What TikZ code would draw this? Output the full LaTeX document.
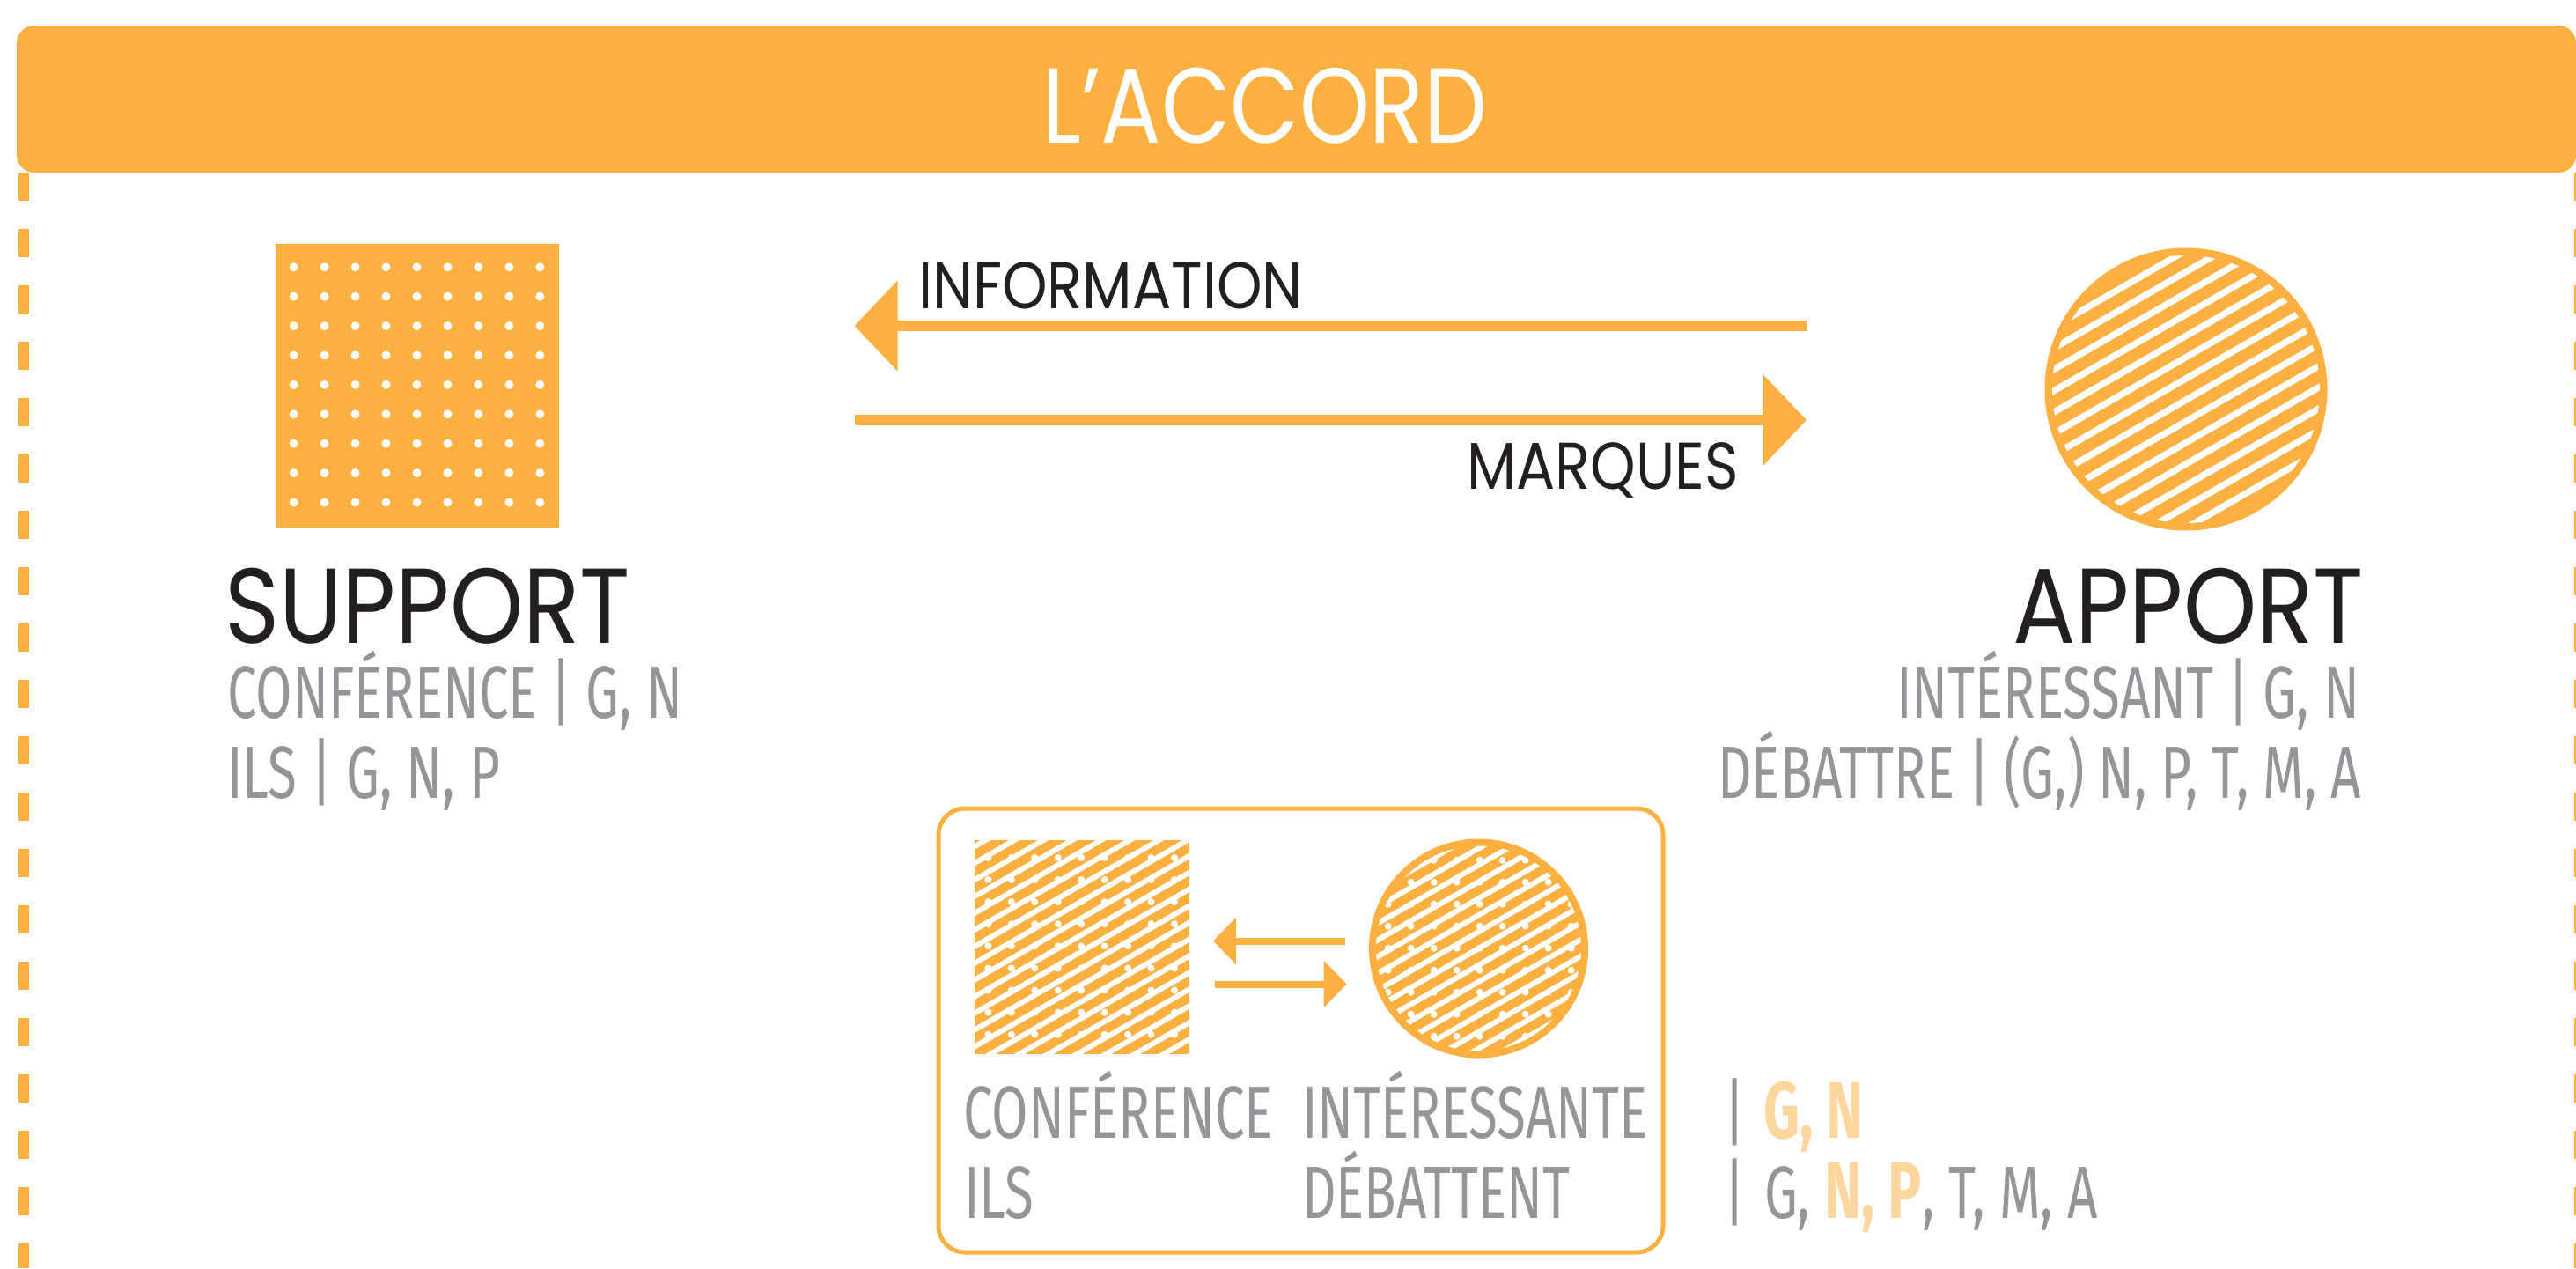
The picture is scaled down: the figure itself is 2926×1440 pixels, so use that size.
\documentclass[tikz,border=0pt]{standalone}
\usepackage{fontspec}
\usetikzlibrary{arrows.meta,calc}
\setmainfont{Poppins}
\newfontfamily\geo[FakeStretch=0.875]{Poppins}
\newfontfamily\geot[FakeStretch=0.84]{Poppins}
\newfontfamily\lightf[FakeStretch=0.715]{Fira Sans}
\newfontfamily\boldf[FakeStretch=0.7]{Fira Sans}
\definecolor{acc}{HTML}{FBB040}
\definecolor{dark}{HTML}{231F20}
\definecolor{graytxt}{HTML}{939598}
\definecolor{lor}{HTML}{FDD69E}
\newcommand\accb[1]{{\boldf\bfseries\fontsize{45.5pt}{46pt}\selectfont\color{lor}#1}}
\begin{document}
\begin{tikzpicture}[x=0.5pt,y=-0.5pt,
  bigtitle/.style={font={\geo\fontsize{60.5pt}{62pt}\selectfont},inner sep=0,outer sep=0,text depth=0pt},
  toptitle/.style={font={\geot\fontsize{60.5pt}{62pt}\selectfont},inner sep=0,outer sep=0},
  midtitle/.style={font={\geo\fontsize{37.5pt}{40pt}\selectfont},text=dark,inner sep=0,outer sep=0},
  graytext/.style={font={\lightf\fontsize{42pt}{45pt}\selectfont},text=graytxt,inner sep=0,outer sep=0},
  dashline/.style={acc,line width=6pt,dash pattern=on 16pt off 16pt},
  bigarr/.style={acc,line width=6.35pt,-{Triangle[length=24.5pt,width=50pt]}},
  smallarr/.style={acc,line width=4pt,-{Triangle[length=13pt,width=26pt]}},
  whitestripe/.style={white,line width=#1},
]
\useasboundingbox (0,0) rectangle (2926,1440);
\fill[white] (0,0) rectangle (2926,1440);

% dashed side lines
\coordinate (dl1) at (27,196);
\coordinate (dl2) at (27,1440);
\coordinate (dr1) at (2930,196);
\coordinate (dr2) at (2930,1440);
\draw[dashline] (dl1) -- (dl2);
\draw[dashline] (dr1) -- (dr2);

% header bar
\node[fill=acc,rounded corners=10pt,minimum width=1453.5pt,minimum height=83.5pt,inner sep=0] (bar) at (1472.5,112.5) {};
\node[toptitle,text=white,anchor=base] (title) at (1437,162) {L’ACCORD};

% big square with dots
\node[fill=acc,minimum width=161pt,minimum height=161pt,inner sep=0] (sq) at (474,438) {};
\foreach \i in {0,...,8}{
  \foreach \j in {0,...,8}{
    \fill[white] (333.7+34.95*\i,303.3+33.4*\j) circle[radius=2.5pt];
  }
}

% big circle with stripes
\node[circle,fill=acc,minimum size=160.5pt,inner sep=0] (ci) at (2483,442) {};
\begin{scope}
  \clip (ci.center) circle[radius=76pt];
  \begin{scope}[shift={(ci.center)},rotate=30]
    \foreach \k in {1,...,14}{
      \draw[whitestripe=3.7pt] (-200,{(\k-7.5)*21}) -- (200,{(\k-7.5)*21});
    }
  \end{scope}
\end{scope}

% big arrows
\coordinate (a1s) at (2052,370);
\coordinate (a1e) at (970.5,370);
\coordinate (a2s) at (970.5,477);
\coordinate (a2e) at (2052,477);
\draw[bigarr] (a1s) -- (a1e);
\draw[bigarr] (a2s) -- (a2e);
\node[midtitle,anchor=base west] (info) at (1043,350) {INFORMATION};
\node[midtitle,anchor=base east] (marq) at (1975,555) {MARQUES};

% labels
\node[bigtitle,text=dark,anchor=base west] (support) at (255,730) {SUPPORT};
\node[graytext,anchor=base west] (s1) at (258,815) {CONFÉRENCE | G, N};
\node[graytext,anchor=base west] (s2) at (258,906) {ILS | G, N, P};
\node[bigtitle,text=dark,anchor=base east] (apport) at (2685,730) {APPORT};
\node[graytext,anchor=base east] (p1) at (2680,815) {INTÉRESSANT | G, N};
\node[graytext,anchor=base east] (p2) at (2682,906) {DÉBATTRE | (G,) N, P, T, M, A};

% bottom box
\node[draw=acc,line width=2.5pt,rounded corners=15pt,minimum width=411.5pt,minimum height=252pt,inner sep=0] (box) at (1477.5,1170) {};

% small square
\node[fill=acc,minimum width=122pt,minimum height=121.5pt,inner sep=0] (sq2) at (1229,1075.5) {};
\begin{scope}
  \clip (sq2.south west) rectangle (sq2.north east);
  \begin{scope}[shift={(sq2.center)},rotate=30]
    \foreach \k in {-12,...,12}{
      \draw[whitestripe=3pt] (-250,{\k*16.4+4}) -- (250,{\k*16.4+4});
    }
  \end{scope}
  \foreach \i in {0,...,8}{
    \foreach \j in {0,...,8}{
      \fill[white] (1122.4+26.45*\i,973.9+25.1*\j) circle[radius=2pt];
    }
  }
\end{scope}

% small circle
\node[circle,fill=acc,minimum size=124.5pt,inner sep=0] (ci2) at (1679.5,1077) {};
\begin{scope}
  \clip (ci2.center) circle[radius=58.25pt];
  \begin{scope}[shift={(ci2.center)},rotate=30]
    \foreach \k in {-9,...,9}{
      \draw[whitestripe=3pt] (-200,{\k*16.4}) -- (200,{\k*16.4});
    }
  \end{scope}
  \foreach \i in {0,...,8}{
    \foreach \j in {0,...,8}{
      \fill[white] (1576.7+26*\i,976.7+25*\j) circle[radius=2pt];
    }
  }
\end{scope}

% small arrows
\coordinate (b1s) at (1528,1068.5);
\coordinate (b1e) at (1378,1068.5);
\coordinate (b2s) at (1379.6,1117.5);
\coordinate (b2e) at (1529.6,1117.5);
\draw[smallarr] (b1s) -- (b1e);
\draw[smallarr] (b2s) -- (b2e);

% box texts
\node[graytext,anchor=base west] (c1) at (1094,1292) {CONFÉRENCE};
\node[graytext,anchor=base west] (c2) at (1095,1383) {ILS};
\node[graytext,anchor=base west] (i1) at (1479,1292) {INTÉRESSANTE};
\node[graytext,anchor=base west] (i2) at (1479,1383) {DÉBATTENT};

% right texts
\node[graytext,anchor=base] (bar1) at (1971,1292) {|};
\node[graytext,anchor=base] (bar2) at (1971,1383) {|};
\node[graytext,anchor=base west] (r1) at (2003,1292) {\accb{G, N}};
\node[graytext,anchor=base west] (r2) at (2004,1383) {G, \accb{N, P}, T, M, A};
\end{tikzpicture}
\end{document}
